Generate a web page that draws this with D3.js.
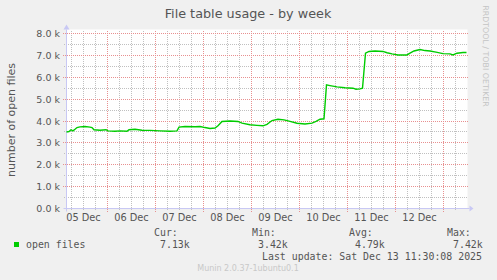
<!DOCTYPE html>
<html>
<head>
<meta charset="utf-8">
<script src="https://cdn.jsdelivr.net/npm/d3@7"></script>
<style>
  body { margin: 0; background: #f0f0f0; }
  svg { display: block; }
  text { font-family: "DejaVu Sans", sans-serif; fill: #555; }
  .mono { font-family: "DejaVu Sans Mono", monospace; }
</style>
</head>
<body>
<div id="graph"></div>
<script>
// samples (half-hourly RRD, thinned)
var times = [
  "2025-12-05 03:30","2025-12-05 04:45","2025-12-05 05:45","2025-12-05 06:45","2025-12-05 07:45",
  "2025-12-05 08:45","2025-12-05 10:15","2025-12-05 12:45","2025-12-05 15:15","2025-12-05 16:15",
  "2025-12-05 17:15","2025-12-05 20:15","2025-12-05 23:15","2025-12-06 00:15","2025-12-06 03:45",
  "2025-12-06 06:15","2025-12-06 09:45","2025-12-06 10:45","2025-12-06 13:45","2025-12-06 17:15",
  "2025-12-06 21:15","2025-12-07 02:15","2025-12-07 07:15","2025-12-07 10:45","2025-12-07 11:45",
  "2025-12-07 14:45","2025-12-07 19:45","2025-12-07 22:15","2025-12-08 00:45","2025-12-08 03:15",
  "2025-12-08 05:45","2025-12-08 07:15","2025-12-08 09:15","2025-12-08 13:15","2025-12-08 17:15",
  "2025-12-08 19:15","2025-12-08 23:15","2025-12-09 02:45","2025-12-09 05:45","2025-12-09 07:45",
  "2025-12-09 10:15","2025-12-09 13:15","2025-12-09 16:15","2025-12-09 19:15","2025-12-09 22:45",
  "2025-12-10 02:45","2025-12-10 06:15","2025-12-10 08:15","2025-12-10 10:15","2025-12-10 12:15",
  "2025-12-10 13:30","2025-12-10 15:15","2025-12-10 18:45","2025-12-10 22:45","2025-12-11 02:45",
  "2025-12-11 04:15","2025-12-11 06:15","2025-12-11 07:30","2025-12-11 09:00","2025-12-11 10:45",
  "2025-12-11 13:45","2025-12-11 17:45","2025-12-11 19:45","2025-12-11 22:15","2025-12-12 01:15",
  "2025-12-12 05:45","2025-12-12 07:15","2025-12-12 09:15","2025-12-12 12:15","2025-12-12 14:45",
  "2025-12-12 17:15","2025-12-12 20:15","2025-12-12 23:45","2025-12-13 03:15","2025-12-13 04:45",
  "2025-12-13 06:45","2025-12-13 09:45","2025-12-13 11:30"
];
var openFiles = [
  3500,3520,3600,3550,3620, 3700,3730,3750,3720,3700,
  3600,3580,3600,3550,3530, 3550,3530,3600,3620,3580,
  3570,3550,3530,3550,3720, 3750,3740,3750,3700,3660,
  3680,3780,3980,4000,3980, 3900,3830,3800,3780,3850,
  4020,4080,4050,3980,3900, 3860,3900,3980,4080,4100,
  5650,5620,5560,5520,5500, 5450,5470,5500,7100,7180,
  7200,7180,7120,7070,7020, 7020,7100,7200,7270,7220,
  7200,7150,7080,7070,7020, 7100,7130,7130
];
var yTicks = [0, 1000, 2000, 3000, 4000, 5000, 6000, 7000, 8000];
var dayLabels = ["2025-12-05","2025-12-06","2025-12-07","2025-12-08","2025-12-09","2025-12-10","2025-12-11","2025-12-12"];
var legendHeads = ["Cur:", "Min:", "Avg:", "Max:"];
var legendValues = ["7.13k", "3.42k", "4.79k", "7.42k"];

var W = 497, H = 280;
var parse = d3.timeParse("%Y-%m-%d %H:%M");
var start = parse("2025-12-05 03:30"), end = parse("2025-12-13 11:30");

var x = d3.scaleTime().domain([start, end]).range([66.5, 466.5]);
var y = d3.scaleLinear().domain([0, 8000]).range([208.5, 33.5]);

var svg = d3.select("#graph").append("svg")
  .attr("width", W).attr("height", H);

// plot background
svg.append("rect")
  .attr("x", x.range()[0]).attr("y", y.range()[1] - 4)
  .attr("width", x.range()[1] - x.range()[0] + 1)
  .attr("height", y.range()[0] - y.range()[1] + 4)
  .attr("fill", "#fff");

function px(v) { return Math.round(v - 0.5) + 0.5; }

// minor grid (dotted, 1 on 1 off, aligned on whole pixels)
var minorX = d3.timeHour.every(6).range(start, end).filter(function(d) { return d.getHours() != 0; });
var minorY = d3.range(500, 8001, 1000);
svg.append("g").selectAll("line").data(minorX).join("line")
  .attr("x1", function(d) { return px(x(d)); })
  .attr("x2", function(d) { return px(x(d)); })
  .attr("y1", 31).attr("y2", 211)
  .attr("stroke", "#c0c0c0").attr("stroke-dasharray", "1,1");
svg.append("g").selectAll("line").data(minorY).join("line")
  .attr("x1", 64).attr("x2", 468)
  .attr("y1", function(d) { return px(y(d)); })
  .attr("y2", function(d) { return px(y(d)); })
  .attr("stroke", "#c0c0c0").attr("stroke-dasharray", "1,1");

// major grid
var majorX = d3.timeDay.range(d3.timeDay.ceil(start), end);
svg.append("g").selectAll("line").data(majorX).join("line")
  .attr("x1", function(d) { return px(x(d)); })
  .attr("x2", function(d) { return px(x(d)); })
  .attr("y1", 31).attr("y2", 212)
  .attr("stroke", "#e89090").attr("stroke-dasharray", "1,1");
svg.append("g").selectAll("line").data(yTicks.slice(1)).join("line")
  .attr("x1", 63).attr("x2", 468)
  .attr("y1", function(d) { return px(y(d)); })
  .attr("y2", function(d) { return px(y(d)); })
  .attr("stroke", "#e89090").attr("stroke-dasharray", "1,1");

// axes with arrows
var axisColor = "#c8c8f4";
svg.append("line")
  .attr("x1", x.range()[0] - 3).attr("x2", x.range()[1] + 3)
  .attr("y1", y.range()[0]).attr("y2", y.range()[0])
  .attr("stroke", axisColor);
svg.append("line")
  .attr("x1", x.range()[0]).attr("x2", x.range()[0])
  .attr("y1", y.range()[0] + 3).attr("y2", y.range()[1] - 4)
  .attr("stroke", axisColor);
svg.append("path")
  .attr("d", "M" + (x.range()[1] + 3) + "," + (y.range()[0] - 3) + "l4,3l-4,3z")
  .attr("fill", axisColor);
svg.append("path")
  .attr("d", "M" + (x.range()[0] - 3) + "," + (y.range()[1] - 4) + "l3,-5l3,5z")
  .attr("fill", axisColor);

// tick labels
var fmtK = d3.format(".1f");
svg.append("g").selectAll("text").data(yTicks).join("text")
  .attr("x", 60).attr("y", function(d) { return y(d) + 3.5; })
  .attr("text-anchor", "end").attr("font-size", 9.5)
  .text(function(d) { return fmtK(d / 1000) + " k"; });

var fmtDay = d3.timeFormat("%d %b");
var parseDay = d3.timeParse("%Y-%m-%d");
svg.append("g").selectAll("text").data(dayLabels).join("text")
  .attr("x", function(d) { return x(d3.timeHour.offset(parseDay(d), 12)); })
  .attr("y", 221).attr("text-anchor", "middle").attr("font-size", 9.8)
  .text(function(d) { return fmtDay(parseDay(d)); });

// series
var data = times.map(function(t, i) { return [parse(t), openFiles[i]]; });
var line = d3.line()
  .x(function(d) { return x(d[0]); })
  .y(function(d) { return y(d[1]); });
svg.append("path")
  .attr("d", line(data))
  .attr("fill", "none").attr("stroke", "#00cc00").attr("stroke-width", 1.4);

// titles
svg.append("text").attr("x", 248).attr("y", 18).attr("text-anchor", "middle")
  .attr("font-size", 12.8).text("File table usage - by week");
svg.append("text").attr("transform", "translate(15," + 120 + ") rotate(-90)")
  .attr("text-anchor", "middle").attr("font-size", 11).text("number of open files");
svg.append("text").attr("transform", "translate(483,56) rotate(90)")
  .attr("text-anchor", "middle").attr("font-size", 7.9).style("fill", "#c4c4c4")
  .text("RRDTOOL / TOBI OETIKER");

// legend
svg.append("rect").attr("x", 14).attr("y", 242).attr("width", 5).attr("height", 5)
  .attr("fill", "#00cc00");
svg.append("text").attr("class", "mono").attr("x", 26).attr("y", 247.5)
  .attr("font-size", 9.9).text("open files");
var headX = [154, 252, 349, 447];
svg.append("g").selectAll("text").data(legendHeads).join("text")
  .attr("class", "mono").attr("x", function(d, i) { return headX[i]; }).attr("y", 236)
  .attr("font-size", 9.9).text(function(d) { return d; });
svg.append("g").selectAll("text").data(legendValues).join("text")
  .attr("class", "mono").attr("x", function(d, i) { return headX[i] + 6; }).attr("y", 247.5)
  .attr("font-size", 9.9).text(function(d) { return d; });
svg.append("text").attr("class", "mono").attr("x", 482).attr("y", 260)
  .attr("text-anchor", "end").attr("font-size", 9.9)
  .text("Last update: Sat Dec 13 11:30:08 2025");
svg.append("text").attr("x", 248).attr("y", 271).attr("text-anchor", "middle")
  .attr("font-size", 8).style("fill", "#c8c8c8").text("Munin 2.0.37-1ubuntu0.1");
</script>
</body>
</html>
